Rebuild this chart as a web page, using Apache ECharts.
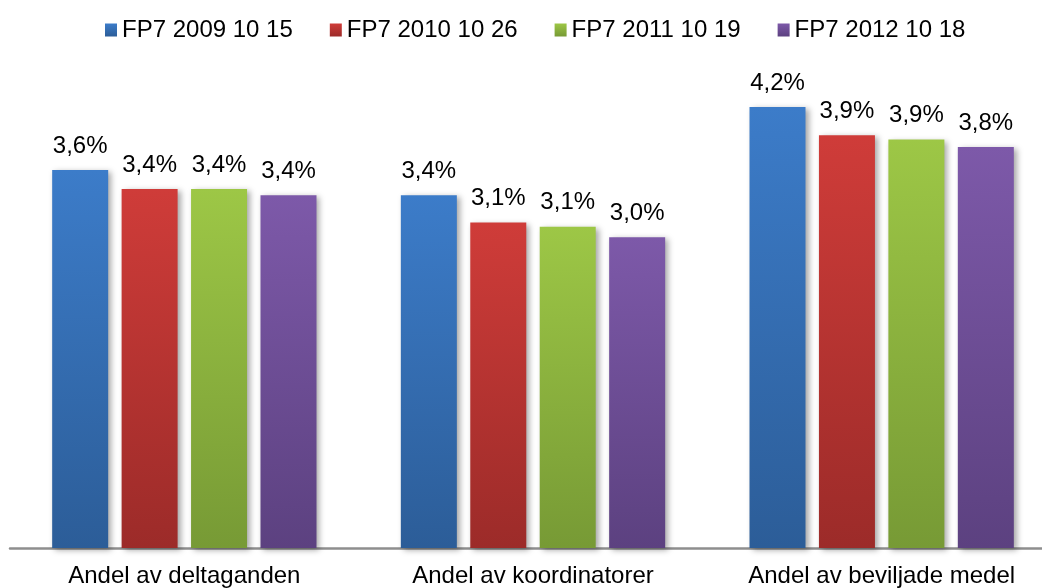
<!DOCTYPE html>
<html>

<head>
    <meta charset="utf-8">
    <title>FP7</title>
    <style>
        html, body { margin: 0; padding: 0; background: #fff; }
    </style>
</head>

<body>
    <div id="chart" style="width: 1042px;height: 588px;"></div>

    <script src="https://cdn.jsdelivr.net/npm/echarts@6/dist/echarts.min.js"></script>
    <script>
        // categories
        const categories = ['Andel av deltaganden', 'Andel av koordinatorer', 'Andel av beviljade medel'];
        // series names
        const seriesNames = ['FP7 2009 10 15', 'FP7 2010 10 26', 'FP7 2011 10 19', 'FP7 2012 10 18'];
        // values (%)
        const fp2009 = [3.60, 3.36, 4.20];
        const fp2010 = [3.42, 3.10, 3.93];
        const fp2011 = [3.42, 3.06, 3.89];
        const fp2012 = [3.36, 2.96, 3.82];
        const values = [fp2009, fp2010, fp2011, fp2012];
        // top / bottom colours of each bar gradient
        const topColors = ['#3c7cc9', '#cf3c39', '#9dc746', '#7d59a9'];
        const bottomColors = ['#2c5d98', '#9c2b29', '#779a35', '#5c4180'];

        const chart = echarts.init(document.getElementById('chart'));
        const font = 'Liberation Sans, Arial, sans-serif';

        const series = seriesNames.map((name, i) => ({
            name: name,
            type: 'bar',
            barWidth: 56,
            barGap: '24%',
            data: values[i],
            itemStyle: {
                color: new echarts.graphic.LinearGradient(0, 0, 0, 1, [
                    { offset: 0, color: topColors[i] },
                    { offset: 1, color: bottomColors[i] }
                ]),
                shadowColor: 'rgba(0,0,0,0.35)',
                shadowBlur: 6,
                shadowOffsetX: 3,
                shadowOffsetY: 2
            },
            label: {
                show: true,
                position: 'top',
                distance: 12,
                color: '#000',
                fontFamily: font,
                fontSize: 24,
                formatter: p => p.value.toFixed(1).replace('.', ',') + '%'
            }
        }));

        chart.setOption({
            animation: false,
            legend: {
                data: seriesNames,
                left: 100,
                top: 13,
                itemWidth: 12,
                itemHeight: 13,
                itemGap: 37,
                icon: 'rect',
                textStyle: { fontFamily: font, fontSize: 24, color: '#000' }
            },
            grid: { left: 10, width: 1046, top: 23, bottom: 40, outerBoundsMode: 'none', containLabel: false },
            xAxis: {
                type: 'category',
                data: categories,
                axisLine: { lineStyle: { color: '#8e8e8e', width: 2.5 } },
                axisTick: { show: false },
                axisLabel: { interval: 0, margin: 16, color: '#000', fontFamily: font, fontSize: 24 }
            },
            yAxis: {
                type: 'value',
                min: 0,
                max: 5,
                show: false,
                splitLine: { show: false }
            },
            series: series
        });
    </script>
</body>

</html>
